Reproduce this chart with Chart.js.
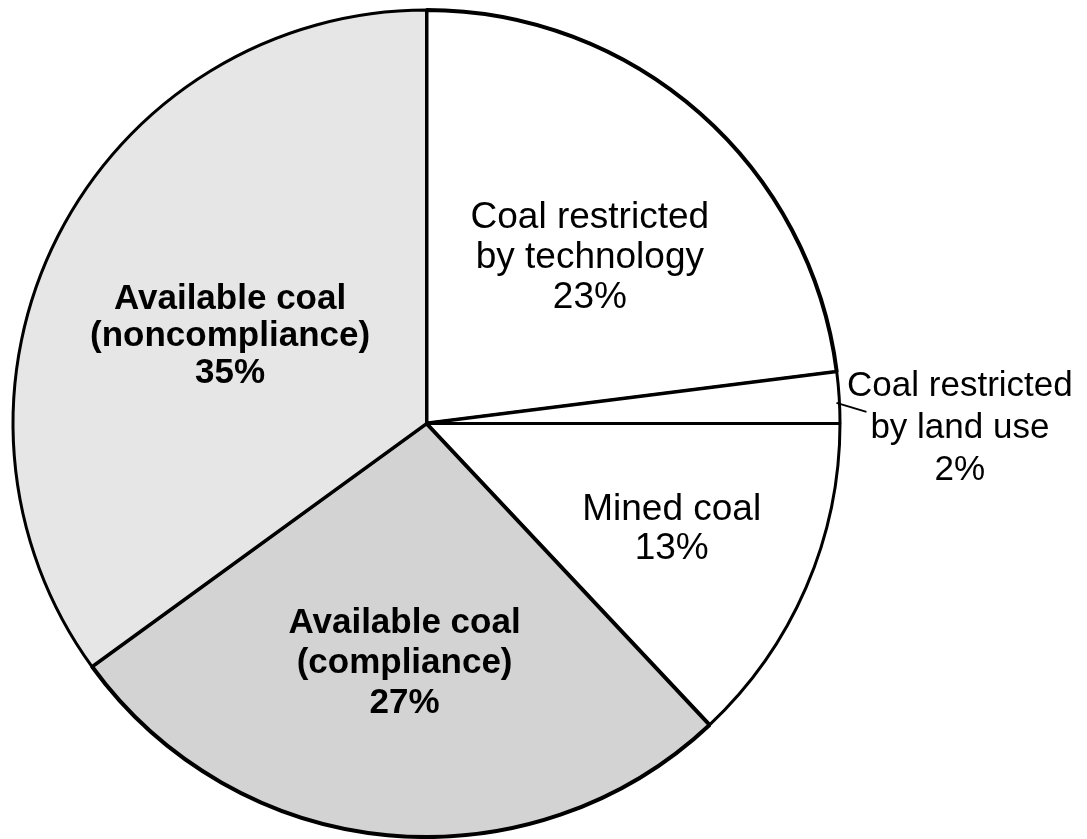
<!DOCTYPE html>
<html>
<head>
<meta charset="utf-8">
<script src="https://cdn.jsdelivr.net/npm/chart.js@4.4.0/dist/chart.umd.min.js"></script>
<style>
  html, body { margin: 0; padding: 0; background: #fff; }
  #wrap { width: 1087px; height: 839px; position: relative; }
</style>
</head>
<body>
<div id="wrap"><canvas id="pie"></canvas></div>
<script>
// slices, clockwise from 12 o'clock
const labels = [
  ['Coal restricted', 'by technology'],
  ['Coal restricted', 'by land use'],
  ['Mined coal'],
  ['Available coal', '(compliance)'],
  ['Available coal', '(noncompliance)']
];
const shares = [23, 2, 13, 27, 35];
const fills = ['#ffffff', '#ffffff', '#ffffff', '#d3d3d3', '#e6e6e6'];
const boldLabel = [false, false, false, true, true];
const fontSize = [37, 35, 37, 35, 35];
const lineGap = [40, 42, 39, 40, 37];
// label centre relative to the pie centre, in radii
const labelOffset = [[0.395, -0.4], [1.29, 0.012], [0.593, 0.255], [-0.053, 0.58], [-0.475, -0.21]];

function pieLabels(){
  return {
    id: 'pieLabels',
    afterDatasetsDraw(chart){
      const ctx = chart.ctx
      const meta = chart.getDatasetMeta(0)
      ctx.save()
      ctx.fillStyle = '#000'
      ctx.textAlign = 'center'
      ctx.textBaseline = 'middle'
      meta.data.forEach((arc, i) => {
        const r = arc.outerRadius
        const x = arc.x + labelOffset[i][0] * r
        const y = arc.y + labelOffset[i][1] * r
        if (i === 1) {
          // short leader line for the thin slice
          const a = arc.startAngle + 0.6 * (arc.endAngle - arc.startAngle)
          const sx = arc.x + Math.cos(a) * (r - 3)
          const sy = arc.y + Math.sin(a) * (r - 3)
          ctx.strokeStyle = '#000'
          ctx.lineWidth = 2
          ctx.beginPath()
          ctx.moveTo(sx, sy)
          ctx.lineTo(sx + 30, sy + 9)
          ctx.stroke()
        }
        const lines = labels[i].concat([shares[i] + '%'])
        ctx.font = (boldLabel[i] ? 'bold ' : '') + fontSize[i] + 'px "Liberation Sans", Arial, sans-serif'
        lines.forEach((t, k) => {
          ctx.fillText(t, x, y + (k - (lines.length - 1) / 2) * lineGap[i])
        })
      })
      ctx.restore()
    }
  }
}

function coalPie(id){
  const data = {
    labels: labels.map(l => l.join(' ')),
    datasets: [{
      data: shares,
      backgroundColor: fills,
      borderColor: '#000',
      borderWidth: [4, 3, 3, 4, 3]
    }]
  };
  const config = {
    type: 'pie',
    data: data,
    options: {
      responsive: true,
      maintainAspectRatio: false,
      animation: false,
      layout: { padding: { left: 11, top: 8, right: 245, bottom: 0 } },
      plugins: { legend: { display: false }, tooltip: { enabled: false } }
    },
    plugins: [pieLabels()]
  };
  let ctx = document.getElementById(id).getContext('2d')
  new Chart(ctx, config)
}
coalPie('pie')
</script>
</body>
</html>
